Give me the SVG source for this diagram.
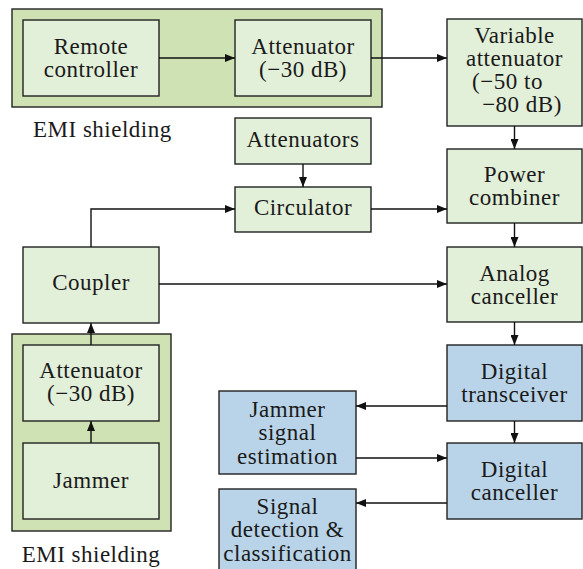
<svg xmlns="http://www.w3.org/2000/svg" width="583" height="569" viewBox="0 0 583 569">
  <defs>
    <marker id="tip" markerUnits="userSpaceOnUse" markerWidth="11" markerHeight="8" refX="10" refY="4" orient="auto">
      <path d="M0,0 L10,4 L0,8 Z" fill="#111"/>
    </marker>
  </defs>

  <rect width="583" height="569" fill="#ffffff"/>

  <!-- shielded enclosures -->
  <g id="shield-top">
    <rect x="12" y="9" width="370" height="98" fill="#cfe2b3" stroke="#222" stroke-width="1.4"/>
    <text x="33" y="137" font-family="Liberation Serif" font-size="23" fill="#1a1a1a" letter-spacing="0.5">EMI shielding</text>
  </g>
  <g id="shield-bottom">
    <rect x="12" y="334" width="159" height="197" fill="#cfe2b3" stroke="#222" stroke-width="1.4"/>
    <text x="91" y="562" font-family="Liberation Serif" font-size="23" fill="#1a1a1a" letter-spacing="0.5" text-anchor="middle">EMI shielding</text>
  </g>

  <!-- RF chain -->
  <g id="remote-controller" text-anchor="middle">
    <rect x="23" y="20" width="136" height="76" fill="#e2efd9" stroke="#222" stroke-width="1.4"/>
    <text x="91" y="54" font-family="Liberation Serif" font-size="23" fill="#1a1a1a" letter-spacing="0.5">Remote</text>
    <text x="91" y="77" font-family="Liberation Serif" font-size="23" fill="#1a1a1a" letter-spacing="0.5">controller</text>
  </g>
  <g id="attenuator-top" text-anchor="middle">
    <rect x="235" y="20" width="136" height="76" fill="#e2efd9" stroke="#222" stroke-width="1.4"/>
    <text x="303" y="54" font-family="Liberation Serif" font-size="23" fill="#1a1a1a" letter-spacing="0.5">Attenuator</text>
    <text x="303" y="77" font-family="Liberation Serif" font-size="23" fill="#1a1a1a" letter-spacing="0.5">(&#8722;30 dB)</text>
  </g>
  <g id="variable-attenuator" text-anchor="middle">
    <rect x="447" y="19" width="135" height="107" fill="#e2efd9" stroke="#222" stroke-width="1.4"/>
    <text x="514.5" y="43" font-family="Liberation Serif" font-size="23" fill="#1a1a1a" letter-spacing="0.5">Variable</text>
    <text x="514.5" y="66" font-family="Liberation Serif" font-size="23" fill="#1a1a1a" letter-spacing="0.5">attenuator</text>
    <text x="507.5" y="89" font-family="Liberation Serif" font-size="23" fill="#1a1a1a" letter-spacing="0.5">(&#8722;50 to</text>
    <text x="522" y="112" font-family="Liberation Serif" font-size="23" fill="#1a1a1a" letter-spacing="0.5">&#8722;80 dB)</text>
  </g>
  <g id="attenuators" text-anchor="middle">
    <rect x="235" y="118" width="136" height="46" fill="#e2efd9" stroke="#222" stroke-width="1.4"/>
    <text x="303" y="147" font-family="Liberation Serif" font-size="23" fill="#1a1a1a" letter-spacing="0.5">Attenuators</text>
  </g>
  <g id="circulator" text-anchor="middle">
    <rect x="235" y="187" width="136" height="45" fill="#e2efd9" stroke="#222" stroke-width="1.4"/>
    <text x="303" y="215" font-family="Liberation Serif" font-size="23" fill="#1a1a1a" letter-spacing="0.5">Circulator</text>
  </g>
  <g id="power-combiner" text-anchor="middle">
    <rect x="447" y="149" width="135" height="74" fill="#e2efd9" stroke="#222" stroke-width="1.4"/>
    <text x="514.5" y="182" font-family="Liberation Serif" font-size="23" fill="#1a1a1a" letter-spacing="0.5">Power</text>
    <text x="514.5" y="205" font-family="Liberation Serif" font-size="23" fill="#1a1a1a" letter-spacing="0.5">combiner</text>
  </g>
  <g id="coupler" text-anchor="middle">
    <rect x="23" y="247" width="136" height="76" fill="#e2efd9" stroke="#222" stroke-width="1.4"/>
    <text x="91" y="290" font-family="Liberation Serif" font-size="23" fill="#1a1a1a" letter-spacing="0.5">Coupler</text>
  </g>
  <g id="analog-canceller" text-anchor="middle">
    <rect x="447" y="247" width="135" height="75" fill="#e2efd9" stroke="#222" stroke-width="1.4"/>
    <text x="514.5" y="281" font-family="Liberation Serif" font-size="23" fill="#1a1a1a" letter-spacing="0.5">Analog</text>
    <text x="514.5" y="304" font-family="Liberation Serif" font-size="23" fill="#1a1a1a" letter-spacing="0.5">canceller</text>
  </g>
  <g id="attenuator-bottom" text-anchor="middle">
    <rect x="23" y="345" width="136" height="76" fill="#e2efd9" stroke="#222" stroke-width="1.4"/>
    <text x="91" y="378" font-family="Liberation Serif" font-size="23" fill="#1a1a1a" letter-spacing="0.5">Attenuator</text>
    <text x="91" y="401" font-family="Liberation Serif" font-size="23" fill="#1a1a1a" letter-spacing="0.5">(&#8722;30 dB)</text>
  </g>
  <g id="jammer" text-anchor="middle">
    <rect x="23" y="443" width="136" height="76" fill="#e2efd9" stroke="#222" stroke-width="1.4"/>
    <text x="91" y="488" font-family="Liberation Serif" font-size="23" fill="#1a1a1a" letter-spacing="0.5">Jammer</text>
  </g>

  <!-- digital processing -->
  <g id="digital-transceiver" text-anchor="middle">
    <rect x="447" y="345" width="135" height="76" fill="#b9d4e8" stroke="#222" stroke-width="1.4"/>
    <text x="514.5" y="379" font-family="Liberation Serif" font-size="23" fill="#1a1a1a" letter-spacing="0.5">Digital</text>
    <text x="514.5" y="402" font-family="Liberation Serif" font-size="23" fill="#1a1a1a" letter-spacing="0.5">transceiver</text>
  </g>
  <g id="digital-canceller" text-anchor="middle">
    <rect x="447" y="443" width="135" height="76" fill="#b9d4e8" stroke="#222" stroke-width="1.4"/>
    <text x="514.5" y="477" font-family="Liberation Serif" font-size="23" fill="#1a1a1a" letter-spacing="0.5">Digital</text>
    <text x="514.5" y="500" font-family="Liberation Serif" font-size="23" fill="#1a1a1a" letter-spacing="0.5">canceller</text>
  </g>
  <g id="jammer-estimation" text-anchor="middle">
    <rect x="219" y="391" width="137" height="83" fill="#b9d4e8" stroke="#222" stroke-width="1.4"/>
    <text x="287.5" y="416.5" font-family="Liberation Serif" font-size="23" fill="#1a1a1a" letter-spacing="0.5">Jammer</text>
    <text x="287.5" y="440" font-family="Liberation Serif" font-size="23" fill="#1a1a1a" letter-spacing="0.5">signal</text>
    <text x="287.5" y="463.5" font-family="Liberation Serif" font-size="23" fill="#1a1a1a" letter-spacing="0.5">estimation</text>
  </g>
  <g id="signal-detection" text-anchor="middle">
    <rect x="219" y="489" width="137" height="90" fill="#b9d4e8" stroke="#222" stroke-width="1.4"/>
    <text x="287.5" y="514" font-family="Liberation Serif" font-size="23" fill="#1a1a1a" letter-spacing="0.5">Signal</text>
    <text x="287.5" y="537" font-family="Liberation Serif" font-size="23" fill="#1a1a1a" letter-spacing="0.5">detection &amp;</text>
    <text x="287.5" y="560.5" font-family="Liberation Serif" font-size="23" fill="#1a1a1a" letter-spacing="0.5">classification</text>
  </g>

  <!-- connectors -->
  <g id="connectors" fill="none" stroke="#111" stroke-width="1.4" marker-end="url(#tip)">
    <path d="M159,58 H235"/>
    <path d="M371,58 H447"/>
    <path d="M514.5,126 V149"/>
    <path d="M303,164 V187"/>
    <path d="M371,209 H447"/>
    <path d="M91,247 V209 H235"/>
    <path d="M159,284 H447"/>
    <path d="M514.5,223 V247"/>
    <path d="M514.5,322 V345"/>
    <path d="M447,406 H356"/>
    <path d="M514.5,421 V443"/>
    <path d="M356,458 H447"/>
    <path d="M447,503 H356"/>
    <path d="M91,443 V421"/>
    <path d="M91,345 V323"/>
  </g>
</svg>
